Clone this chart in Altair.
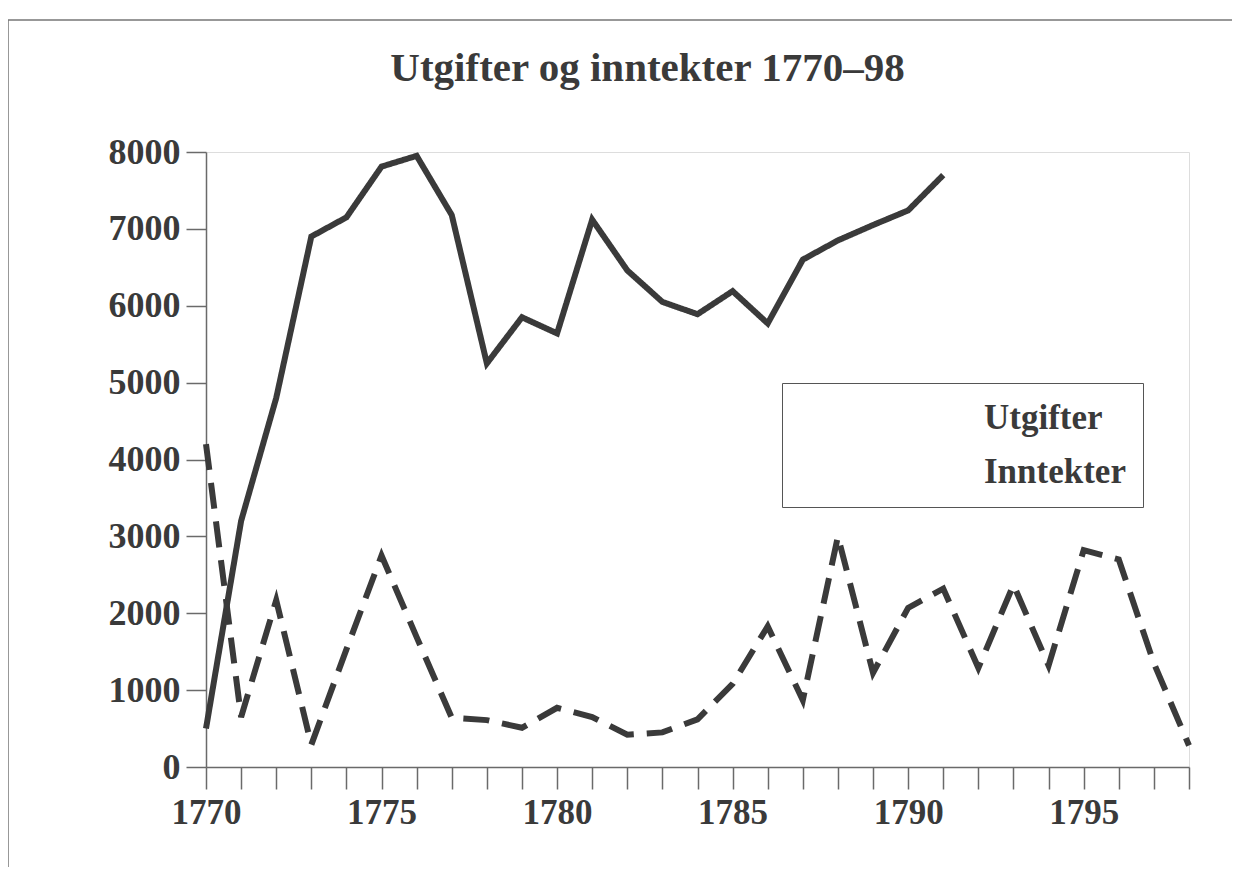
import altair as alt
import pandas as pd

# --- data ---
years_utg = list(range(1770, 1792))
utgifter = [500, 3200, 4800, 6900, 7150, 7810, 7950, 7180, 5250, 5850, 5640,
            7120, 6460, 6050, 5890, 6190, 5770, 6600, 6850, 7050, 7240, 7700]

years_inn = list(range(1770, 1799))
inntekter = [4200, 650, 2170, 290, 1530, 2750, 1690, 640, 610, 510, 770,
             650, 420, 450, 620, 1080, 1830, 870, 3000, 1225, 2070, 2320,
             1290, 2370, 1320, 2820, 2700, 1350, 280]

series_names = ["Utgifter", "Inntekter"]
y_ticks = [0, 1000, 2000, 3000, 4000, 5000, 6000, 7000, 8000]
x_ticks = list(range(1770, 1799))
title_text = "Utgifter og inntekter 1770\u201398"

df = pd.concat([
    pd.DataFrame({"year": years_utg, "value": utgifter, "series": series_names[0]}),
    pd.DataFrame({"year": years_inn, "value": inntekter, "series": series_names[1]}),
])

FONT = "Liberation Serif"
INK = "#3a3a3a"
AX = "#6a6a6a"

W, H = 983, 615

lines = alt.Chart(df).mark_line(
    strokeWidth=6, color=INK, strokeJoin="miter", strokeCap="butt"
).encode(
    x=alt.X("year:Q",
            scale=alt.Scale(domain=[1770, 1798], nice=False, zero=False),
            axis=alt.Axis(values=x_ticks, format="d", title=None,
                          labelExpr="datum.value % 5 == 0 ? datum.label : ''",
                          grid=False, tickSize=22, labelPadding=6,
                          labelFont=FONT, labelFontSize=35, labelFontWeight="bold",
                          labelColor=INK, domainColor=AX, tickColor=AX,
                          domainWidth=1.5, tickWidth=1.5, labelFlush=False)),
    y=alt.Y("value:Q",
            scale=alt.Scale(domain=[0, 8000], nice=False),
            axis=alt.Axis(values=y_ticks, format="d", title=None, grid=False,
                          tickSize=20, labelPadding=6,
                          labelFont=FONT, labelFontSize=36, labelFontWeight="bold",
                          labelColor=INK, domainColor=AX, tickColor=AX,
                          domainWidth=1.5, tickWidth=1.5)),
    strokeDash=alt.StrokeDash(
        "series:N",
        scale=alt.Scale(domain=series_names, range=[[1, 0], [26, 13]]),
        legend=alt.Legend(title=None, orient="none", legendX=576, legendY=231,
                          strokeColor="#555", padding=17, rowPadding=18,
                          labelFont=FONT, labelFontSize=35, labelFontWeight="bold",
                          labelColor=INK,
                          symbolOpacity=0, symbolSize=400, labelOffset=150)),
    detail="series:N",
)

frame = alt.Chart(pd.DataFrame({"k": [0]})).mark_rect(
    fill=None, stroke="#777", strokeWidth=1.5, clip=False
).encode(
    x=alt.value(-198), x2=alt.value(W + 60),
    y=alt.value(-132), y2=alt.value(H + 200),
)

chart = alt.layer(frame, lines).properties(
    width=W, height=H,
    autosize=alt.AutoSizeParams(type="none"),
    padding={"left": 198, "top": 144, "right": 43, "bottom": 100},
    title=alt.Title(title_text, font=FONT, fontSize=41, fontWeight="bold",
                    color=INK, anchor="middle", frame="group",
                    baseline="alphabetic", offset=0, dy=103, dx=-50),
).configure_view(stroke="transparent", strokeWidth=0).configure(background="white")

chart.save("out.html", embed_options={"renderer": "svg", "actions": False})
